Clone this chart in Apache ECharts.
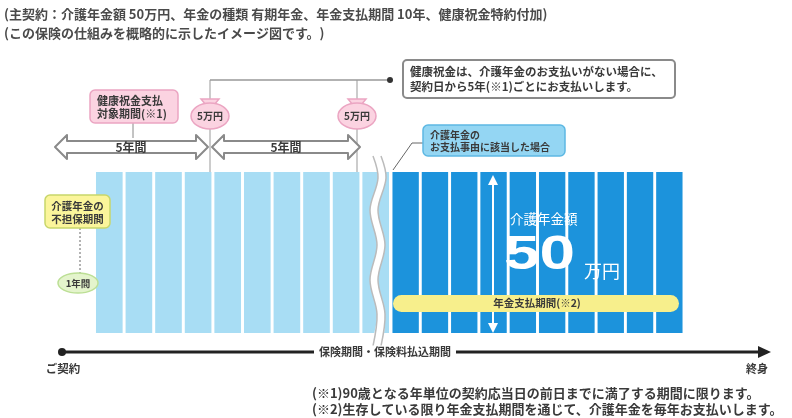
<!DOCTYPE html>
<html><head><meta charset="utf-8">
<script src="https://cdn.jsdelivr.net/npm/echarts@6/dist/echarts.min.js"></script>
<style>html,body{margin:0;padding:0;background:#fff}#c{width:792px;height:418px}</style>
</head><body><div id="c"></div>
<script>
// ---- data ----
const coverYears = ['1','2','3','4','5','6','7','8','9','10'];
const coverValues = [50,50,50,50,50,50,50,50,50,50];
const annuityYears = ['1年目','2年目','3年目','4年目','5年目','6年目','7年目','8年目','9年目','10年目'];
const annuityValues = [50,50,50,50,50,50,50,50,50,50];
const bonusLabels = ['5万円','5万円'];
const periodLabels = ['5年間','5年間'];
const headerLines = ['(主契約：介護年金額 50万円、年金の種類 有期年金、年金支払期間 10年、健康祝金特約付加)','(この保険の仕組みを概略的に示したイメージ図です。)'];
const calloutLines = ['健康祝金は、介護年金のお支払いがない場合に、','契約日から5年(※1)ごとにお支払いします。'];
const noteLines = ['(※1)90歳となる年単位の契約応当日の前日までに満了する期間に限ります。','(※2)生存している限り年金支払期間を通じて、介護年金を毎年お支払いします。'];

const F = '"Noto Sans CJK JP", "Noto Sans", sans-serif';
function T(x, y, text, size, o) {
  o = o || {};
  return {type:'text', x:x, y:y, z:o.z || 20, scaleX:o.sx || 1, originX:0, originY:0,
    style:{text:text, fill:o.fill || '#3a3a3a', fontSize:size, fontFamily:F, fontWeight:o.w || 'bold',
      align:o.align || 'left', verticalAlign:'middle', backgroundColor:o.bg, padding:o.pad}};
}
function dbl(x1, x2, cy) {
  const h = 12, s = 6, hl = 12;
  return {type:'polygon', z:15, shape:{points:[[x1,cy],[x1+hl,cy-h],[x1+hl,cy-s],[x2-hl,cy-s],[x2-hl,cy-h],[x2,cy],[x2-hl,cy+h],[x2-hl,cy+s],[x1+hl,cy+s],[x1+hl,cy+h]]},
    style:{fill:'#fff', stroke:'#8a8a8a', lineWidth:2, lineJoin:'round'}};
}
function bag(cx, cy, label) {
  return [
    {type:'polygon', z:15, shape:{points:[[cx-9,cy-15],[cx+9,cy-15],[cx+4,cy-9],[cx-4,cy-9]]}, style:{fill:'#fbd3e1', stroke:'#eba5c2', lineWidth:1.5}},
    {type:'ellipse', z:16, shape:{cx:cx, cy:cy+2, rx:19, ry:13}, style:{fill:'#fbd3e1', stroke:'#eba5c2', lineWidth:1.5}},
    T(cx, cy+2, label, 10, {align:'center', z:17})
  ];
}
function wave(x0) {
  return [[x0,156],[x0+5,178],[x0-3,210],[x0+4,245],[x0-3,280],[x0+4,314],[x0,346]];
}
const wl = wave(373), wr = wave(381);

const g = [];
headerLines.forEach((s, i) => g.push(T(4, 14 + i*19, s, 13, {fill:'#4a4a4a'})));
// callout
g.push({type:'line', z:12, shape:{x1:210, y1:80, x2:390, y2:80}, style:{stroke:'#999', lineWidth:1.5}});
g.push({type:'circle', z:13, shape:{cx:390, cy:80, r:3}, style:{fill:'#333'}});
g.push({type:'rect', z:14, shape:{x:403, y:60, width:272, height:38, r:4}, style:{fill:'#fff', stroke:'#8a8a8a', lineWidth:2}});
calloutLines.forEach((s, i) => g.push(T(410, 72 + i*15, s, 11.5)));
// vertical guide lines for bonus
[210, 357].forEach(x => g.push({type:'line', z:12, shape:{x1:x, y1:80, x2:x, y2:172}, style:{stroke:'#999', lineWidth:1}}));
// pink target box
g.push({type:'line', z:12, shape:{x1:133, y1:122, x2:133, y2:138}, style:{stroke:'#888', lineWidth:1}});
g.push({type:'rect', z:14, shape:{x:90, y:90, width:88, height:33, r:5}, style:{fill:'#fbd3e1', stroke:'#eba5c2', lineWidth:1.5}});
g.push(T(97, 101, '健康祝金支払', 11));
g.push(T(97, 114, '対象期間(※1)', 11));
// double arrows
g.push(dbl(55, 208, 147)); g.push(dbl(212, 360, 147));
g.push(T(131, 147, periodLabels[0], 12, {align:'center'}));
g.push(T(286, 147, periodLabels[1], 12, {align:'center'}));
bag(210, 114, bonusLabels[0]).forEach(e => g.push(e));
bag(357, 114, bonusLabels[1]).forEach(e => g.push(e));
// wave break
g.push({type:'polygon', z:10, shape:{points: wl.concat(wr.slice().reverse()), smooth:0.35}, style:{fill:'#fff'}});
g.push({type:'polyline', z:11, shape:{points: wl, smooth:0.35}, style:{stroke:'#bbb', lineWidth:1.5, fill:null}});
g.push({type:'polyline', z:11, shape:{points: wr, smooth:0.35}, style:{stroke:'#bbb', lineWidth:1.5, fill:null}});
// blue box
g.push({type:'polyline', z:12, shape:{points:[[423,143],[412,143],[393,170]]}, style:{stroke:'#666', lineWidth:1, fill:null}});
g.push({type:'rect', z:14, shape:{x:423, y:125, width:142, height:31, r:5}, style:{fill:'#94d6f3', stroke:'#5db8e3', lineWidth:1.5}});
g.push(T(430, 135, '介護年金の', 10));
g.push(T(430, 147, 'お支払事由に該当した場合', 10));
// yellow box + 1年間
g.push({type:'line', z:12, shape:{x1:80, y1:228, x2:80, y2:274}, style:{stroke:'#666', lineWidth:1, lineDash:[2,2]}});
g.push({type:'rect', z:14, shape:{x:45, y:195, width:65, height:33, r:5}, style:{fill:'#fbf59b', stroke:'#c8d66b', lineWidth:1.5}});
g.push(T(77.5, 206, '介護年金の', 10.5, {align:'center'}));
g.push(T(77.5, 219, '不担保期間', 10.5, {align:'center'}));
g.push({type:'ellipse', z:14, shape:{cx:78, cy:283, rx:20, ry:10}, style:{fill:'#e4f4cc', stroke:'#bcdf95', lineWidth:1.5}});
g.push(T(78, 283, '1年間', 9.5, {align:'center', z:15}));
// annuity area
g.push({type:'line', z:14, shape:{x1:493, y1:182, x2:493, y2:326}, style:{stroke:'#fff', lineWidth:2}});
g.push({type:'polygon', z:14, shape:{points:[[493,175],[488,185],[498,185]]}, style:{fill:'#fff'}});
g.push({type:'polygon', z:14, shape:{points:[[493,333],[488,323],[498,323]]}, style:{fill:'#fff'}});
g.push(T(510, 219, '介護年金額', 13.5, {fill:'#fff', w:'normal'}));
g.push({type:'text', z:20, x:504, y:256, scaleX:1.33, originX:0, originY:0, style:{text:'50', fill:'#fff', fontSize:48, fontWeight:'bold', fontFamily:'"Liberation Sans", Arial, sans-serif', align:'left', verticalAlign:'middle'}});
g.push(T(584, 271, '万円', 18, {fill:'#fff', w:'normal'}));
g.push({type:'rect', z:14, shape:{x:393, y:295, width:286, height:17, r:8.5}, style:{fill:'#f7ef8c'}});
g.push(T(537, 303.5, '年金支払期間(※2)', 10.5, {align:'center', z:15}));
// timeline
g.push({type:'line', z:12, shape:{x1:62, y1:352, x2:760, y2:352}, style:{stroke:'#222', lineWidth:3}});
g.push({type:'polygon', z:12, shape:{points:[[771,352],[758,346],[758,358]]}, style:{fill:'#222'}});
g.push({type:'circle', z:12, shape:{cx:62, cy:352, r:4}, style:{fill:'#222'}});
g.push(T(385, 352, '保険期間・保険料払込期間', 11, {align:'center', bg:'#fff', pad:[1,5]}));
g.push(T(63, 369, 'ご契約', 11.5, {align:'center'}));
g.push(T(757, 369, '終身', 11, {align:'center'}));
noteLines.forEach((s, i) => g.push(T(312, 393 + i*16, s, 13)));

const chart = echarts.init(document.getElementById('c'), null, {renderer:'canvas'});
chart.setOption({
  animation:false,
  grid:[
    {left:94.5, top:172, width:296, height:161},
    {left:391, top:172, width:293, height:161}
  ],
  xAxis:[
    {type:'category', gridIndex:0, data:coverYears, show:false},
    {type:'category', gridIndex:1, data:annuityYears, show:false}
  ],
  yAxis:[
    {type:'value', gridIndex:0, min:0, max:50, show:false},
    {type:'value', gridIndex:1, min:0, max:50, show:false}
  ],
  series:[
    {type:'bar', xAxisIndex:0, yAxisIndex:0, data:coverValues, barCategoryGap:'10%', itemStyle:{color:'#a8ddf4'}, silent:true},
    {type:'bar', xAxisIndex:1, yAxisIndex:1, data:annuityValues, barCategoryGap:'10%', itemStyle:{color:'#1c93dc'}, silent:true}
  ],
  graphic:{elements:g}
});
</script></body></html>
